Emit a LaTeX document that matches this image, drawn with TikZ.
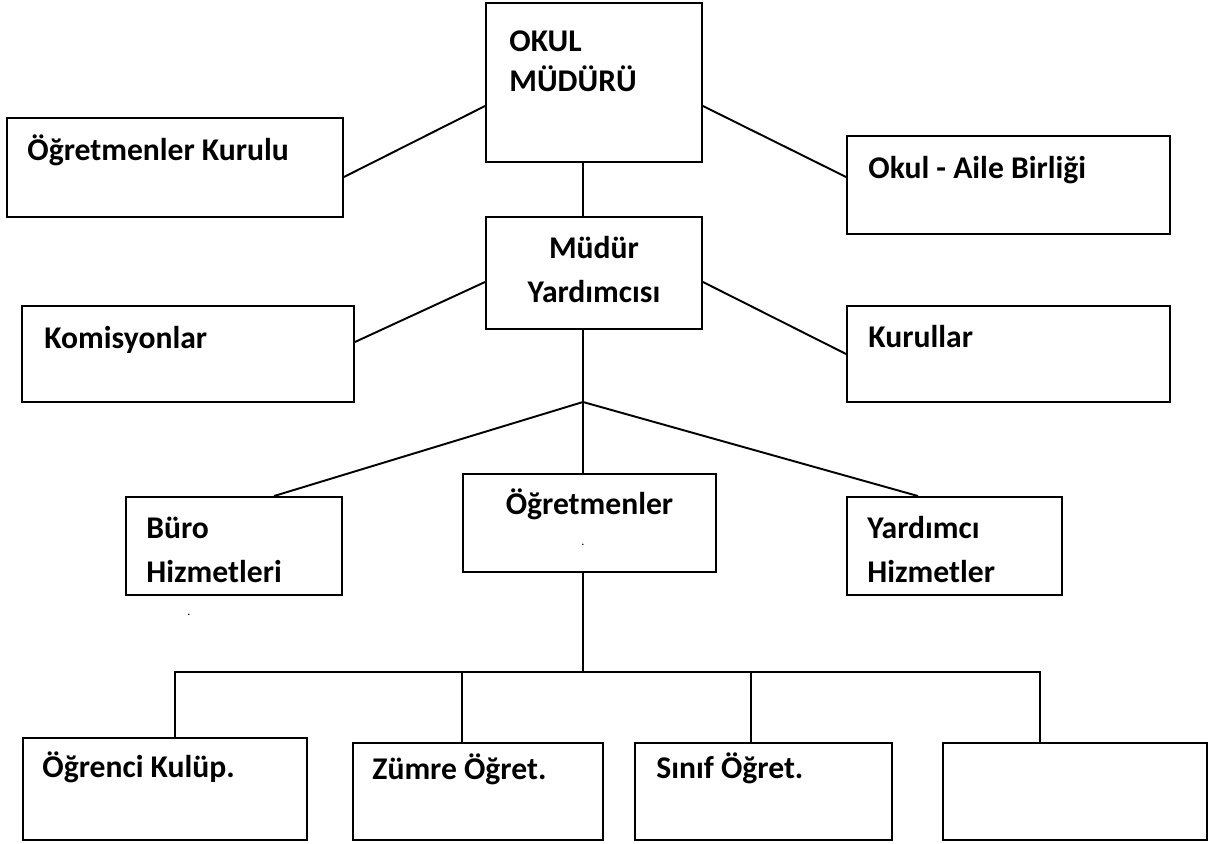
\documentclass[tikz,border=0pt]{standalone}
\usepackage{fontspec}
\setmainfont{Carlito}
\begin{document}
\begin{tikzpicture}[x=0.02cm,y=-0.02cm,
    box/.style={draw,rectangle,line width=1.1pt,inner sep=0pt},
    lbl/.style={font=\fontsize{18}{25}\selectfont\bfseries,align=left,anchor=base west,inner sep=0pt},
    conn/.style={line width=1.1pt},
    dot/.style={font=\fontsize{7}{8}\selectfont,inner sep=0pt}]
    \useasboundingbox (0,0) rectangle (1211,844);
    % boxes
    \node[box,minimum width=4.32cm,minimum height=3.18cm] (okul) at (594,82.5) {};
    \node[box,minimum width=6.72cm,minimum height=1.98cm] (kurulu) at (175,167.5) {};
    \node[box,minimum width=6.46cm,minimum height=1.96cm] (aile) at (1008.5,185) {};
    \node[box,minimum width=4.32cm,minimum height=2.24cm] (yard) at (594,273) {};
    \node[box,minimum width=6.64cm,minimum height=1.92cm] (komis) at (188,354) {};
    \node[box,minimum width=6.46cm,minimum height=1.92cm] (kurullar) at (1008.5,354) {};
    \node[box,minimum width=4.32cm,minimum height=1.96cm] (buro) at (234,546) {};
    \node[box,minimum width=5.06cm,minimum height=1.96cm] (ogretmenler) at (589.5,523) {};
    \node[box,minimum width=4.30cm,minimum height=1.96cm] (yardimci) at (954.5,546) {};
    \node[box,minimum width=5.68cm,minimum height=2.04cm] (ogrenci) at (165,789) {};
    \node[box,minimum width=5.00cm,minimum height=1.94cm] (zumre) at (478,791.5) {};
    \node[box,minimum width=5.14cm,minimum height=1.94cm] (sinif) at (763.5,791.5) {};
    \node[box,minimum width=5.28cm,minimum height=1.94cm] (bos) at (1075,791.5) {};
    % texts (two-line ones sit on the baseline of their last line)
    \node[lbl] (okul-t) at ([shift={(.48cm,-1.79cm)}]okul.north west) {OKUL\\[-2.5pt]MÜDÜRÜ};
    \node[lbl] (kurulu-t) at ([shift={(.42cm,-.86cm)}]kurulu.north west) {Öğretmenler Kurulu};
    \node[lbl] (aile-t) at ([shift={(.44cm,-.86cm)}]aile.north west) {Okul - Aile Birliği};
    \node[lbl,anchor=base,align=center] (yard-t) at ([yshift=-1.72cm]yard.north) {Müdür\\Yardımcısı};
    \node[lbl] (komis-t) at ([shift={(.46cm,-.86cm)}]komis.north west) {Komisyonlar};
    \node[lbl] (kurullar-t) at ([shift={(.44cm,-.84cm)}]kurullar.north west) {Kurullar};
    \node[lbl] (buro-t) at ([shift={(.42cm,-1.72cm)}]buro.north west) {Büro\\Hizmetleri};
    \node[lbl,anchor=base] (ogretmenler-t) at ([yshift=-.82cm]ogretmenler.north) {Öğretmenler};
    \node[lbl] (yardimci-t) at ([shift={(.42cm,-1.72cm)}]yardimci.north west) {Yardımcı\\Hizmetler};
    \node[lbl] (ogrenci-t) at ([shift={(.40cm,-.80cm)}]ogrenci.north west) {Öğrenci Kulüp.};
    \node[lbl] (zumre-t) at ([shift={(.40cm,-.74cm)}]zumre.north west) {Zümre Öğret.};
    \node[lbl] (sinif-t) at ([shift={(.44cm,-.72cm)}]sinif.north west) {Sınıf Öğret.};
    \node[dot] (dot1) at (583,545) {.};
    \node[dot] (dot2) at (189,615) {.};
    % connectors
    \coordinate (jn) at (583,402);
    \coordinate (bar) at (583,672);
    \draw[conn] ([yshift=-.47cm]okul.west) -- ([yshift=-.19cm]kurulu.east);
    \draw[conn] ([yshift=-.47cm]okul.east) -- ([yshift=.16cm]aile.west);
    \draw[conn] (okul.south -| jn) -- (yard.north -| jn);
    \draw[conn] ([yshift=-.18cm]yard.west) -- ([yshift=.24cm]komis.east);
    \draw[conn] ([yshift=-.18cm]yard.east) -- (kurullar.west);
    \draw[conn] (yard.south -| jn) -- (jn);
    \draw[conn] (jn) -- ([xshift=.8cm]buro.north);
    \draw[conn] (jn) -- (ogretmenler.north -| jn);
    \draw[conn] (jn) -- ([xshift=-.73cm]yardimci.north);
    \draw[conn] (ogretmenler.south -| jn) -- (bar);
    \foreach \n/\s in {ogrenci/.2,zumre/-.32,sinif/-.25,bos/-.7}
        \draw[conn] ([xshift=\s cm]\n.north) |- (bar);
\end{tikzpicture}
\end{document}
